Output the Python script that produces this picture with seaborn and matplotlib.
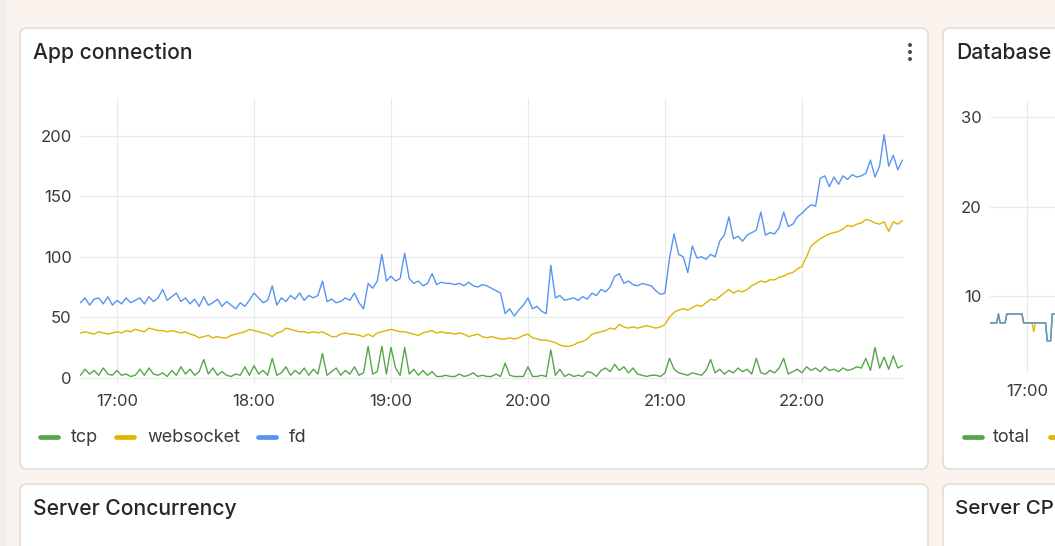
import numpy as np
import pandas as pd
import matplotlib
matplotlib.use("Agg")
import matplotlib.pyplot as plt
import matplotlib.dates as mdates
from matplotlib.patches import FancyBboxPatch, Circle, Rectangle
from matplotlib.lines import Line2D
import seaborn as sns

# ---------------- data ----------------
series_names = ["tcp", "websocket", "fd"]
series_colors = ["#56A64B", "#E0B400", "#5794F2"]
start_time = "2024-01-01 16:44"
step_minutes = 2

tcp = [2, 7, 3, 6, 2, 8, 3, 2,
       6, 2, 3, 1, 2, 7, 2, 8, 3, 2, 4, 1, 6, 2, 9, 3, 7, 2, 5, 15, 3, 8, 2, 5, 2, 1, 3, 2, 9, 2,
       10, 3, 6, 2, 16, 2, 4, 9, 2, 6, 3, 8, 2, 7, 3, 20, 2, 5, 8, 2, 6, 3, 9, 2, 4, 26, 3, 5, 26, 3,
       25, 8, 2, 25, 3, 7, 2, 6, 2, 5, 1, 1, 2, 1, 1, 3, 1, 2, 4, 1, 2, 1, 1, 3, 1, 12, 2, 1, 1, 1,
       9, 1, 1, 2, 1, 23, 2, 7, 1, 3, 1, 2, 1, 5, 4, 1, 6, 8, 5, 11, 6, 9, 4, 8, 3, 2, 1, 2, 2, 1,
       4, 16, 7, 4, 3, 2, 4, 3, 2, 6, 15, 4, 7, 3, 6, 4, 8, 5, 7, 3, 16, 4, 3, 6, 4, 8, 16, 3, 5, 7,
       4, 9, 6, 8, 5, 9, 6, 7, 5, 8, 6, 7, 9, 8, 16, 6, 25, 8, 17, 7, 18, 8, 10]

websocket = [37, 38, 37, 36, 38, 37, 36, 37,
             38, 37, 39, 38, 40, 39, 38, 41, 40, 39, 39, 38, 39, 38, 37, 38, 36, 35, 33, 34, 35, 33, 34, 33, 33, 35, 36, 37, 38, 40,
             39, 38, 37, 36, 34, 37, 38, 41, 40, 39, 38, 38, 37, 38, 37, 38, 36, 34, 34, 36, 37, 36, 36, 35, 34, 36, 34, 37, 38, 39,
             40, 39, 38, 38, 37, 36, 35, 37, 38, 39, 37, 38, 37, 37, 36, 37, 36, 34, 35, 36, 34, 33, 34, 33, 32, 32, 33, 32, 33, 35,
             36, 33, 32, 31, 31, 30, 29, 27, 26, 26, 27, 29, 30, 32, 36, 37, 38, 39, 41, 40, 44, 42, 41, 42, 41, 42, 43, 42, 41, 42,
             44, 50, 54, 56, 57, 56, 58, 60, 59, 62, 65, 64, 67, 70, 73, 70, 72, 71, 73, 76, 78, 80, 79, 81, 81, 83, 84, 86, 87, 90,
             92, 100, 109, 112, 115, 117, 119, 120, 121, 123, 126, 125, 127, 128, 131, 130, 128, 127, 129, 121, 129, 127, 130]

fd = [62, 66, 60, 65, 66, 61, 67, 60,
      64, 61, 66, 62, 64, 66, 61, 67, 63, 66, 73, 64, 67, 70, 63, 66, 61, 65, 59, 67, 60, 62, 65, 59, 63, 60, 57, 62, 59, 64,
      70, 66, 62, 64, 76, 60, 66, 63, 68, 65, 70, 64, 68, 66, 68, 80, 63, 65, 62, 63, 66, 64, 70, 62, 57, 78, 74, 80, 102, 80,
      84, 80, 82, 103, 82, 78, 80, 76, 78, 86, 77, 79, 78, 78, 77, 78, 76, 79, 76, 75, 77, 76, 74, 72, 70, 53, 57, 51, 56, 60,
      66, 57, 59, 55, 53, 93, 66, 68, 64, 65, 66, 64, 67, 65, 70, 68, 73, 71, 75, 84, 86, 78, 80, 77, 76, 78, 77, 76, 72, 69,
      70, 99, 119, 102, 100, 87, 109, 99, 100, 98, 102, 100, 113, 118, 133, 115, 117, 113, 118, 120, 122, 137, 118, 120, 119, 124, 137, 125, 127, 133,
      136, 140, 143, 142, 165, 167, 158, 166, 160, 167, 164, 168, 166, 167, 169, 180, 166, 175, 201, 175, 184, 172, 180]

y_ticks = [0, 50, 100, 150, 200]

# right-hand "Database" panel (only its left edge is visible)
db_names = ["total", "idle", "active"]
db_colors = ["#56A64B", "#E0B400", "#5794F2"]
db_start = "2024-01-01 16:38"
db_total = [7, 7, 7, 7, 7, 8, 7, 7, 7, 7, 8, 8, 8, 8, 8, 8, 8, 8, 8, 8,
            7, 7, 7, 7, 7, 7, 7, 7, 7, 7, 7, 7, 7, 7, 5, 5, 5, 8, 8, 8, 8, 8, 8]
db_idle = [7, 7, 7, 7, 7, 8, 7, 7, 7, 7, 8, 8, 8, 8, 8, 8, 8, 8, 8, 8,
           7, 7, 7, 7, 7, 7, 6, 7, 7, 7, 7, 7, 7, 7, 5, 5, 5, 8, 8, 8, 8, 8, 8]
db_active = [7, 7, 7, 7, 7, 8, 7, 7, 7, 7, 8, 8, 8, 8, 8, 8, 8, 8, 8, 8,
             7, 7, 7, 7, 7, 7, 7, 7, 7, 7, 7, 7, 7, 7, 5, 5, 5, 8, 8, 8, 8, 8, 8]
db_y_ticks = [10, 20, 30]
db_x_ticks = ["2024-01-01 17:00"]

panel_titles = ["App connection", "Database", "Server Concurrency", "Server CP"]

assert len(tcp) == len(websocket) == len(fd)
assert len(db_total) == len(db_idle) == len(db_active)

# ---------------- style ----------------
sns.set_theme(style="white")
plt.rcParams["font.family"] = ["Inter", "DejaVu Sans"]

W, H = 1055, 546
BG = "#FBF4EE"
TEXT = "#262626"
TICK = "#3A3A3A"
GRID = "#EAEAEA"

fig = plt.figure(figsize=(W / 100, H / 100), dpi=100)
fig.patch.set_facecolor(BG)


def rect(x0, y0, x1, y1):
    return [x0 / W, 1 - y1 / H, (x1 - x0) / W, (y1 - y0) / H]


def panel(x0, y0, x1, y1):
    p = FancyBboxPatch((x0 / 100, (H - y1) / 100), (x1 - x0) / 100, (y1 - y0) / 100,
                       boxstyle="round,pad=0,rounding_size=0.07",
                       transform=fig.dpi_scale_trans, facecolor="white",
                       edgecolor="#DDD9D4", linewidth=1.0, zorder=-5)
    fig.add_artist(p)


def ftext(x, y, s, **kw):
    fig.text(x / W, 1 - y / H, s, **kw)


fig.add_artist(Rectangle((0, 0), 0.07, H / 100, transform=fig.dpi_scale_trans,
                         facecolor="#F3EEEA", edgecolor="none", zorder=-6))
panel(20, 28, 928, 469)
panel(943, 28, 1300, 469)
panel(20, 484, 928, 700)
panel(943, 484, 1300, 700)

title_pos = [(33, 53), (956, 53), (33, 509), (955, 509)]
title_size = [15.2, 15.2, 15.2, 14.8]
for t, (tx, ty), fs in zip(panel_titles, title_pos, title_size):
    ftext(tx, ty, t, fontsize=fs, fontweight=500, color=TEXT, va="center", ha="left")

for yy in (45, 52, 59):
    fig.add_artist(Circle((910 / 100, (H - yy) / 100), 0.02, transform=fig.dpi_scale_trans,
                          facecolor="#4A4A4A", edgecolor="none"))

# ---------------- main chart ----------------
times = pd.date_range(start_time, periods=len(fd), freq=f"{step_minutes}min")
df = pd.DataFrame({"time": times, "tcp": tcp, "websocket": websocket, "fd": fd})
long = df.melt(id_vars="time", var_name="series", value_name="value")

ax = fig.add_axes(rect(80, 98, 904, 383))
ax.set_facecolor("none")
sns.lineplot(data=long, x="time", y="value", hue="series", hue_order=series_names,
             palette=dict(zip(series_names, series_colors)), linewidth=1.0,
             legend=False, ax=ax)
t0 = pd.Timestamp("2024-01-01 16:43:48")
t1 = pd.Timestamp("2024-01-01 22:44:42")
ax.set_xlim(mdates.date2num(t0), mdates.date2num(t1))
ax.set_ylim(-4.4, 231.4)
ax.set_yticks(y_ticks)
ax.xaxis.set_major_locator(mdates.HourLocator())
ax.xaxis.set_major_formatter(mdates.DateFormatter("%H:%M"))
ax.grid(True, color=GRID, linewidth=0.8)
ax.set_axisbelow(True)
for s in ax.spines.values():
    s.set_visible(False)
ax.tick_params(axis="both", length=0, labelsize=12, colors=TICK)
ax.tick_params(axis="x", pad=8)
ax.tick_params(axis="y", pad=6)
ax.set_xlabel("")
ax.set_ylabel("")

# legend (Grafana style)
leg_y = 437
mark_x = [40, 116, 258]
text_x = [71, 147, 289]
for name, color, mx, tx in zip(series_names, series_colors, mark_x, text_x):
    fig.add_artist(Line2D([mx / 100, (mx + 18) / 100], [(H - leg_y) / 100] * 2,
                          transform=fig.dpi_scale_trans, color=color, linewidth=3.4,
                          solid_capstyle="round"))
    ftext(tx, leg_y, name, fontsize=13, color=TICK, va="center", ha="left")

# ---------------- database chart ----------------
db_times = pd.date_range(db_start, periods=len(db_total), freq="1min")
ddf = pd.DataFrame({"time": db_times, "total": db_total, "idle": db_idle, "active": db_active})
dlong = ddf.melt(id_vars="time", var_name="series", value_name="value")
ax2 = fig.add_axes(rect(990, 100, 1600, 373))
ax2.set_facecolor("none")
sns.lineplot(data=dlong, x="time", y="value", hue="series", hue_order=db_names,
             palette=dict(zip(db_names, db_colors)), linewidth=1.0, legend=False, ax=ax2)
d0 = pd.Timestamp("2024-01-01 16:38")
ax2.set_xlim(mdates.date2num(d0), mdates.date2num(d0 + pd.Timedelta(hours=610 / 101)))
ax2.set_ylim(1.4, 31.9)
ax2.set_yticks(db_y_ticks)
ax2.set_xticks([mdates.date2num(pd.Timestamp(t)) for t in db_x_ticks])
ax2.xaxis.set_major_formatter(mdates.DateFormatter("%H:%M"))
ax2.grid(True, color=GRID, linewidth=0.8)
ax2.set_axisbelow(True)
for s in ax2.spines.values():
    s.set_visible(False)
ax2.tick_params(axis="both", length=0, labelsize=12, colors=TICK)
ax2.tick_params(axis="x", pad=8)
ax2.tick_params(axis="y", pad=6)
ax2.set_xlabel("")
ax2.set_ylabel("")

# database legend: only the first label and the next marker fall inside the view
fig.add_artist(Line2D([964 / 100, 982 / 100], [(H - leg_y) / 100] * 2,
                      transform=fig.dpi_scale_trans, color=db_colors[0], linewidth=3.4,
                      solid_capstyle="round"))
ftext(993, leg_y, db_names[0], fontsize=13, color=TICK, va="center", ha="left")
fig.add_artist(Line2D([1050 / 100, 1068 / 100], [(H - leg_y) / 100] * 2,
                      transform=fig.dpi_scale_trans, color=db_colors[1], linewidth=3.4,
                      solid_capstyle="round"))

fig.savefig("out.png", dpi=100, facecolor=BG)
